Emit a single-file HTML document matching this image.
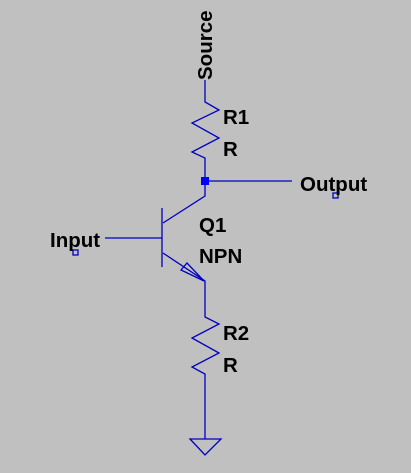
<!DOCTYPE html>
<html><head><style>body{margin:0;background:#c0c0c0}</style></head><body>
<svg width="411" height="473" xmlns="http://www.w3.org/2000/svg" style="display:block">
<rect width="411" height="473" fill="#c0c0c0"/>
<g stroke="#0000c0" stroke-width="1.3" fill="none">
<path d="M205 80V102L219 110L192 123L219 138L192 152L205 158V196L163 223"/>
<path d="M205 181H292"/>
<path d="M162 208V267M105 238H162M163 253L205 281V317L219 324L192 338L219 353L192 367L205 374V439"/>
<path d="M181 270L187 263L204 281Z"/>
<path d="M190 439H221L205 455Z"/>
<rect x="333" y="193" width="5" height="5"/>
<rect x="73" y="250" width="5" height="5"/>
</g>
<rect x="201" y="177" width="8" height="8" fill="#0000ff"/>
<g font-family="Liberation Sans, sans-serif" font-weight="bold" font-size="20.5" fill="#000">
<text x="223" y="124">R1</text>
<text x="223" y="156">R</text>
<text x="199" y="232">Q1</text>
<text x="199" y="263">NPN</text>
<text x="223" y="340">R2</text>
<text x="223" y="372">R</text>
<text x="300" y="191">Output</text>
<text x="50" y="247">Input</text>
<text transform="translate(212,80) rotate(-90)">Source</text>
</g>
</svg>
</body></html>
